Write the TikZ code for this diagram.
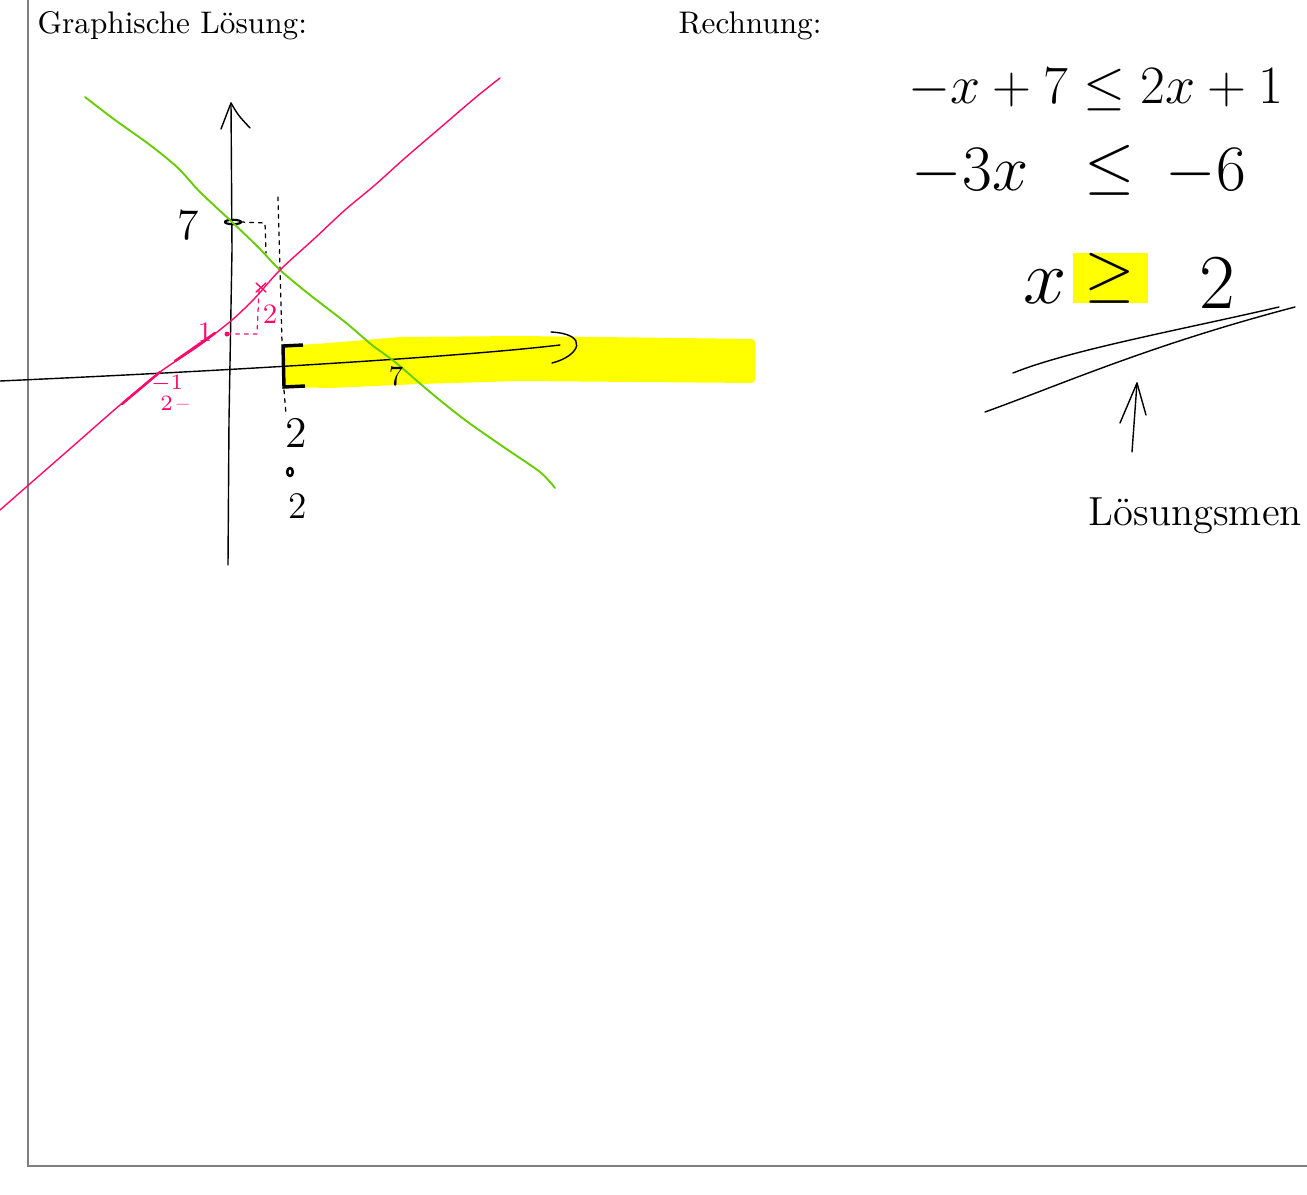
\documentclass[tikz,border=0pt]{standalone}
\usepackage{amsmath,amssymb}
\usepackage{xcolor}
\usepackage{tikz}
\usetikzlibrary{arrows.meta,positioning}
\definecolor{lgreen}{HTML}{66CC00}
\definecolor{lpink}{HTML}{FF0A6A}
\definecolor{marker}{HTML}{FFFF00}
\definecolor{framegray}{HTML}{808080}

\begin{document}
\begin{tikzpicture}[x=0.32pt, y=-0.32pt, every node/.style={inner sep=0pt},
  pen/.style={line width=0.45pt, line cap=round, line join=round},
  dots/.style={pen, line width=0.4pt, dash pattern=on 1.2pt off 1.6pt},
  gline/.style={pen, lgreen, line width=0.6pt}, pline/.style={pen, lpink},
  lbl/.style={font=\fontsize{14}{16}\selectfont}, note/.style={font=\fontsize{9}{10}\selectfont},
  eqn/.style={font=\fontsize{17.28}{20}\selectfont}, eqnb/.style={font=\fontsize{20.74}{24}\selectfont},
  big/.style={font=\fontsize{24.88}{28}\selectfont}]
  \useasboundingbox (0,0) rectangle (1307,1195);
  \draw[framegray, line width=0.6pt] (28,0) -- (28,1166) -- (1307,1166);
  \node[anchor=base west] (graph) at (37,33) {Graphische Lösung:};
  \node[anchor=base west] (calc) at (678,33) {Rechnung:};
  \fill[marker, rounded corners=1pt] (283,346) -- (330,343) -- (400,337) -- (520,336) -- (755,339)
    -- (755,383) -- (520,381) -- (420,384) -- (330,388) -- (283,387) -- cycle;
  \coordinate (xl) at (0,381); \coordinate (xr) at (560,345);
  \coordinate (yb) at (228,565); \coordinate (yt) at (231,103);
  \draw[pen] (xl) .. controls (200,372) and (450,358) .. (xr);
  \draw[pen] (551,332) .. controls (590,334) and (580,356) .. (552,363);
  \draw[pen] (yb) -- (229,420) -- (232,250) -- (yt);
  \draw[pen] (221,129) -- (yt) .. controls (238,115) .. (250,128);
  \draw[pen, line width=0.7pt] (233,222) ellipse (2.6pt and 0.7pt);
  \node[lbl] (y7) at (188,225) {7};
  \draw[dots] (241,222) -- (265,223) -- (266,253);
  \draw[dots] (278,197) -- (282,343);
  \draw[dots] (284,390) -- (286,414);
  \draw[gline] plot[smooth] coordinates {(85,97) (115,120) (150,145) (178,168) (200,192) (232,222) (258,247)
    (280,270) (310,295) (345,322) (372,345) (395,362) (430,392) (465,420) (505,448) (540,472) (555,488)};
  \draw[pline] plot[smooth] coordinates {(0,510) (40,475) (80,440) (120,405) (160,372) (200,345) (232,320)
    (255,298) (280,270) (315,238) (345,210) (375,185) (405,158) (440,128) (475,98) (500,78)};
  \draw[pline, line width=0.8pt] (122,404) -- (160,372) (175,361) -- (215,333);
  \fill[lpink] (227,334) circle (0.8pt);
  \draw[dots, lpink] (227,334) -- (257,334) -- (259,290);
  \draw[pline] (256,283) -- (266,292) (256,292) -- (266,283);
  \node[note, lpink] (m1) at (205,332) {1};
  \node[note, lpink] (m2) at (270,314) {2};
  \node[lpink, font=\fontsize{7}{7}\selectfont, align=left] (mh) at (170,393) {$-1$\\\hspace*{3pt}$2$\,--};
  \draw[line width=1.1pt] (303,345) -- (283,346) -- (284,387) -- (305,386);
  \node[note] (x7) at (396,376) {7};
  \node[lbl] (b2) at (296,433) {2};
  \draw[pen, line width=0.8pt] (290,472) ellipse (0.9pt and 1.3pt);
  \node[font=\fontsize{12}{14}\selectfont] (b3) at (298,506) {2};
  \node[eqn] (eq1) at (1096,90) {$-x+7\leq 2x+1$};
  \node[eqnb] (eq2a) at (970,172) {$-3x$};
  \node[eqnb] (eq2b) at (1110,170) {$\leq$};
  \node[eqnb] (eq2c) at (1206,172) {$-6$};
  \node[big] (sx) at (1045,287) {$x$};
  \node[eqnb, fill=marker, minimum width=24pt, minimum height=16pt] (sge) at (1110,278) {$\geq$};
  \node[big] (stwo) at (1217,283) {$2$};
  \draw[pen] (1013,373) .. controls (1070,350) and (1180,330) .. (1279,307);
  \draw[pen] (985,412) .. controls (1060,385) and (1150,345) .. (1295,307);
  \node[font=\fontsize{13}{15}\selectfont, anchor=base west] (lsg) at (1088,525) {Lösungsmen};
  \coordinate (at) at (1137,383); \coordinate (ab) at (1132,452);
  \draw[pen] (ab) -- (at);
  \draw[pen] (1120,423) -- (at) -- (1146,415);
\end{tikzpicture}
\end{document}
